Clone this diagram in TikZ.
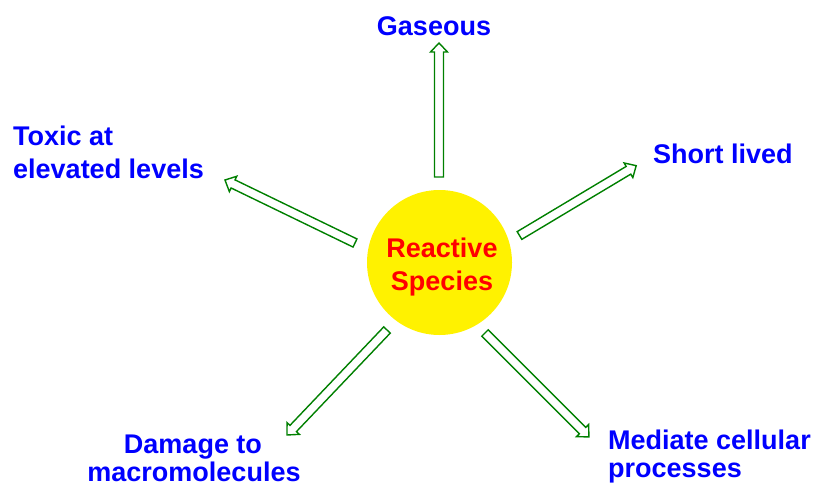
\documentclass[tikz,border=0pt]{standalone}
\usepackage{fontspec}
\setmainfont{Liberation Sans}
\definecolor{lblblue}{RGB}{0,0,255}
\definecolor{arrgreen}{RGB}{0,128,0}
\begin{document}
\begin{tikzpicture}[x=1pt,y=-1pt,
  lbl/.style={inner sep=0pt, text=lblblue, font=\fontsize{27}{32}\selectfont\bfseries},
  blockarr/.style={draw=arrgreen, fill=white, line width=1.4pt, line join=miter}]
\useasboundingbox (0,0) rectangle (816,484);
\fill[white] (0,0) rectangle (816,484);
% centre
\node[circle, fill=yellow, minimum size=145pt, inner sep=0pt] (c) at (439.5,262.5) {};
\node[lbl, text=red, anchor=base] (r1) at (442,257) {Reactive};
\node[lbl, text=red, anchor=base] (r2) at (442,290) {Species};
% labels
\node[lbl, anchor=base] (gas) at (434,36) {Gaseous};
\node[lbl, anchor=base west] (short) at (653,163) {Short lived};
\node[lbl, anchor=base west] (tox1) at (13,146) {Toxic at};
\node[lbl, anchor=base west] (tox2) at (13,178) {elevated levels};
\node[lbl, anchor=base] (dam1) at (193,453) {Damage to};
\node[lbl, anchor=base] (dam2) at (194,481) {macromolecules};
\node[lbl, anchor=base west] (med1) at (608,449) {Mediate cellular};
\node[lbl, anchor=base west] (med2) at (608,477) {processes};
% block arrows: shaft half width 4.5, head half width 8.5, head length 9
\newcommand\blockshape[1]{%
  \draw[blockarr] (0,-4.5) -- ({#1-9},-4.5) -- ({#1-9},-8.5) -- (#1,0) -- ({#1-9},8.5) -- ({#1-9},4.5) -- (0,4.5) -- cycle;}
\coordinate (t1) at (439,177);
\coordinate (t2) at (519.5,235.5);
\coordinate (t3) at (355,243);
\coordinate (t4) at (387,330);
\coordinate (t5) at (485,333);
\begin{scope}[shift={(t1)}, rotate=90]\blockshape{134}\end{scope}
\begin{scope}[shift={(t2)}, rotate=30.9]\blockshape{136}\end{scope}
\begin{scope}[shift={(t3)}, rotate=154.15]\blockshape{144.5}\end{scope}
\begin{scope}[shift={(t4)}, rotate=226.4]\blockshape{145}\end{scope}
\begin{scope}[shift={(t5)}, rotate=-45]\blockshape{147}\end{scope}
\end{tikzpicture}
\end{document}
